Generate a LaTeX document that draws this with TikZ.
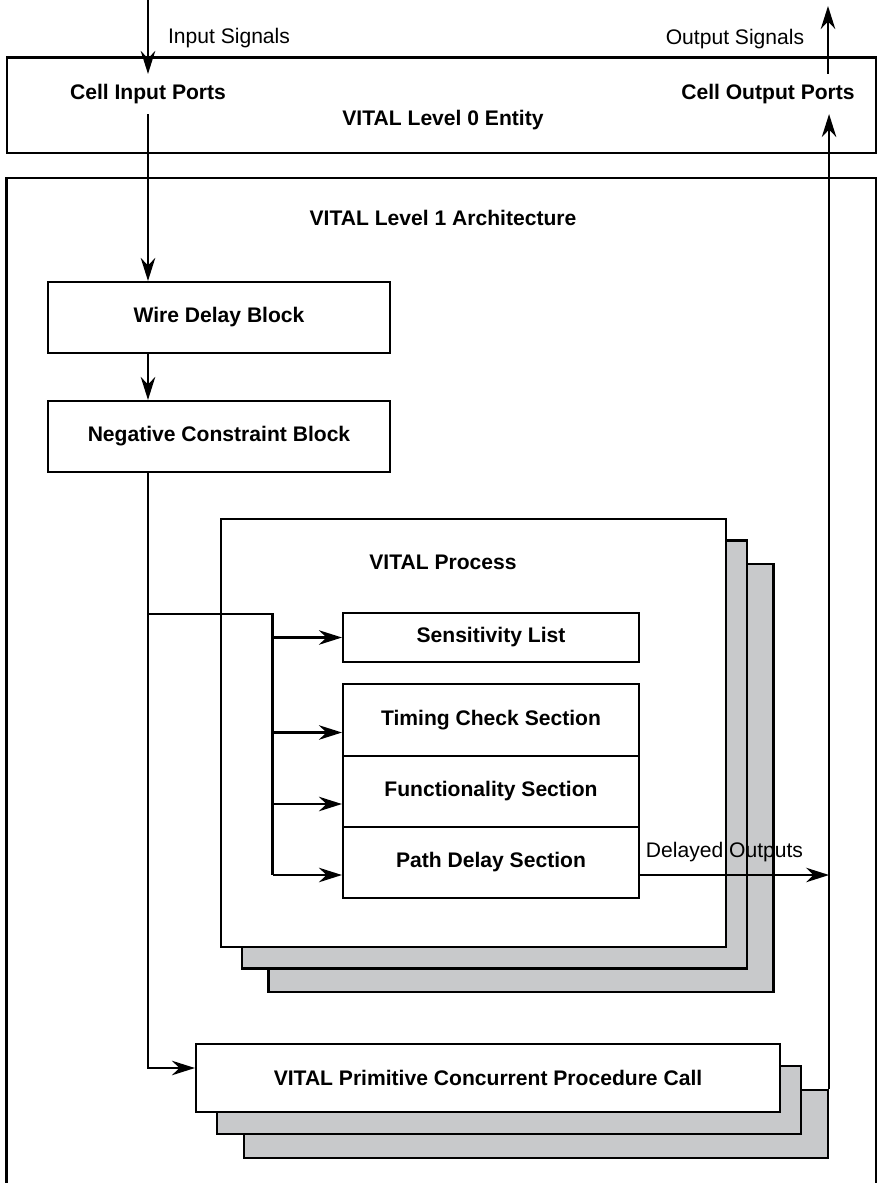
\documentclass[tikz,border=0pt]{standalone}
\usepackage{fontspec}
\setmainfont{Liberation Sans}
\usepackage{tikz}
\usetikzlibrary{calc,arrows.meta}
\definecolor{shadegray}{RGB}{200,201,203}

\begin{document}
\begin{tikzpicture}[
    font=\fontsize{12}{14}\selectfont,
    every path/.style={line width=1.2pt},
    blk/.style={draw, fill=white, inner sep=0pt, font=\fontsize{12}{14}\selectfont\bfseries},
    shadow/.style={draw, fill=shadegray, inner sep=0pt},
    port/.style={inner sep=0pt, minimum height=0.76cm, font=\fontsize{12}{14}\selectfont\bfseries},
    title/.style={font=\fontsize{12}{14}\selectfont\bfseries},
    arr/.style={-{Stealth[length=4.6mm,width=2.9mm]}}
  ]
    \useasboundingbox (0,0) rectangle (17.56,-23.66);
    % entity and architecture frames
    \draw (0.14,-1.15) rectangle (17.52,-3.06);
    \draw (0.13,-23.66) |- (17.52,-3.56) -- (17.52,-23.66);
    \node (insig) at (4.58,-0.76) {Input Signals};
    \node (outsig) at (14.7,-0.78) {Output Signals};
    \node[port] (cellin) at (2.96,-1.88) {Cell Input Ports};
    \node[port] (cellout) at (15.36,-1.88) {Cell Output Ports};
    \node[title] (lvl0) at (8.86,-2.4) {VITAL Level 0 Entity};
    \node[title] (lvl1) at (8.86,-4.36) {VITAL Level 1 Architecture};
    \coordinate (intop) at (2.96,0);
    \coordinate (outtop) at (16.56,-0.12);
    % input chain
    \node[blk, minimum width=6.84cm, minimum height=1.42cm] (wire) at (4.38,-6.35) {Wire Delay Block};
    \node[blk, minimum width=6.84cm, minimum height=1.42cm] (neg) at (4.38,-8.73) {Negative Constraint Block};
    % process stack
    \foreach \i/\dx/\dy in {2/0.95/0.9, 1/0.42/0.43}
        \node[shadow, minimum width=10.1cm, minimum height=8.56cm] (proc\i) at (9.47+\dx,-14.66-\dy) {};
    \node[blk, minimum width=10.1cm, minimum height=8.56cm] (proc) at (9.47,-14.66) {};
    \node[title] (proclbl) at (8.86,-11.24) {VITAL Process};
    \node[blk, minimum width=5.92cm, minimum height=0.98cm] (sens) at (9.82,-12.75) {Sensitivity List};
    \node[blk, minimum width=5.92cm, minimum height=1.44cm] (timing) at (9.82,-14.4) {Timing Check Section};
    \node[blk, minimum width=5.92cm, minimum height=1.42cm] (func) at (9.82,-15.83) {Functionality Section};
    \node[blk, minimum width=5.92cm, minimum height=1.42cm] (path) at (9.82,-17.25) {Path Delay Section};
    % concurrent procedure call stack
    \foreach \i/\dx/\dy in {2/0.96/0.92, 1/0.42/0.44}
        \node[shadow, minimum width=11.68cm, minimum height=1.36cm] (vpc\i) at (9.76+\dx,-21.56-\dy) {};
    \node[blk, minimum width=11.68cm, minimum height=1.36cm] (vpc) at (9.76,-21.56) {VITAL Primitive Concurrent Procedure Call};
    % signal flow
    \draw[arr] (intop) -- (cellin.north);
    \draw[arr] (cellin.south) -- (cellin.south |- wire.north);
    \draw[arr] (wire.south -| cellin) -- (neg.north -| cellin);
    \draw[arr] (neg.south -| cellin) |- ([yshift=0.2cm]vpc.west);
    \coordinate (split) at (2.96,-12.28);
    \coordinate (bus) at (5.45,-12.28);
    \draw (split) -- (bus) -- ([yshift=-0.25cm]path.west -| bus);
    \draw[arr] (bus |- sens.west) -- (sens.west);
    \foreach \s in {timing,func,path}
        \draw[arr] ([yshift=-0.25cm]\s.west -| bus) -- ([yshift=-0.25cm]\s.west);
    \draw[arr] (vpc2.north east) -- (cellout.south -| vpc2.north east);
    \draw[arr] (cellout.north -| outtop) -- (outtop);
    \draw[arr] ([yshift=-0.25cm]path.east) -- ([yshift=-0.25cm]path.east -| vpc2.north east);
    \node (delayed) at (14.49,-17.04) {Delayed Outputs};
\end{tikzpicture}
\end{document}
